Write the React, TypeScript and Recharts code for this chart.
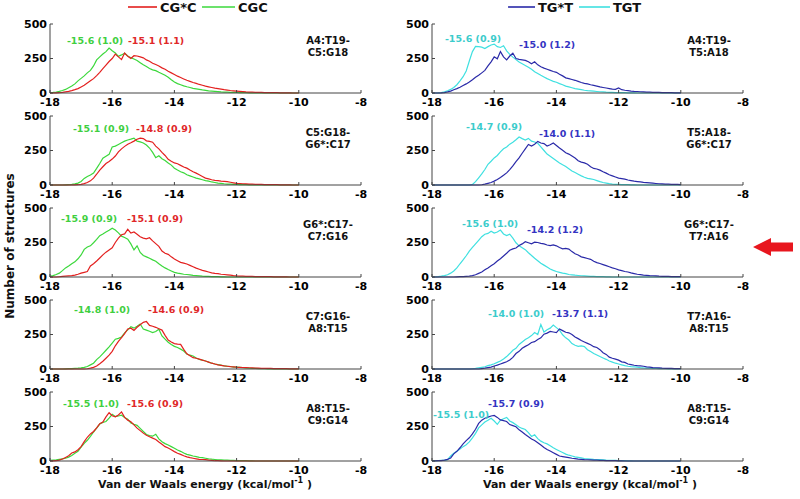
import { LineChart, Line, XAxis, YAxis } from "recharts";

// bin centres, kcal/mol
const energy = [
  -18, -17.9, -17.8, -17.7, -17.6, -17.5, -17.4, -17.3, -17.2, -17.1,
  -17, -16.9, -16.8, -16.7, -16.6, -16.5, -16.4, -16.3, -16.2, -16.1,
  -16, -15.9, -15.8, -15.7, -15.6, -15.5, -15.4, -15.3, -15.2, -15.1,
  -15, -14.9, -14.8, -14.7, -14.6, -14.5, -14.4, -14.3, -14.2, -14.1,
  -14, -13.9, -13.8, -13.7, -13.6, -13.5, -13.4, -13.3, -13.2, -13.1,
  -13, -12.9, -12.8, -12.7, -12.6, -12.5, -12.4, -12.3, -12.2, -12.1,
  -12, -11.9, -11.8, -11.7, -11.6, -11.5, -11.4, -11.3, -11.2, -11.1,
  -11, -10.9, -10.8, -10.7, -10.6, -10.5, -10.4, -10.3, -10.2, -10.1,
  -10,
];

const xTicks = [-18, -16, -14, -12, -10, -8];
const yTicks = [0, 250, 500];

// ---- left column: CG*C (red) and CGC (green) ----
const cgsc1 = [
  0, 0, 1, 2, 4, 8, 12, 17, 24, 32,
  44, 56, 72, 88, 104, 126, 150, 176, 202, 228,
  250, 282, 262, 242, 290, 266, 250, 270, 268, 262,
  255, 240, 230, 216, 206, 196, 182, 172, 158, 146,
  134, 122, 112, 102, 92, 84, 76, 70, 62, 56,
  50, 45, 40, 35, 32, 28, 24, 21, 18, 16,
  14, 12, 10, 8, 7, 6, 5, 4, 4, 3,
  3, 2, 2, 2, 1, 1, 1, 1, 0, 0,
  0,
];
const cgc1 = [
  2, 4, 7, 12, 18, 26, 38, 50, 66, 88,
  106, 124, 146, 164, 196, 240, 262, 282, 300, 326,
  306, 290, 266, 276, 288, 268, 256, 246, 236, 220,
  204, 192, 178, 168, 162, 150, 140, 128, 114, 96,
  80, 68, 60, 52, 45, 40, 34, 30, 26, 22,
  19, 16, 14, 12, 10, 8, 7, 6, 5, 4,
  4, 3, 2, 2, 1, 1, 0, 0, 0, 0,
  0, 0, 0, 0, 0, 0, 0, 0, 0, 0,
  0,
];
const cgsc2 = [
  0, 0, 0, 0, 0, 0, 0, 0, 1, 2,
  4, 10, 18, 30, 50, 78, 108, 132, 156, 170,
  188, 210, 240, 262, 280, 296, 306, 318, 332, 340,
  336, 320, 316, 310, 282, 262, 236, 214, 186, 172,
  160, 154, 142, 130, 122, 108, 96, 86, 74, 62,
  50, 44, 38, 34, 32, 28, 26, 24, 20, 16,
  12, 11, 9, 8, 7, 6, 5, 4, 4, 3,
  3, 2, 2, 2, 1, 1, 1, 1, 0, 0,
  0,
];
const cgc2 = [
  0, 0, 0, 0, 0, 1, 2, 4, 8, 14,
  26, 48, 62, 72, 86, 120, 156, 194, 208, 222,
  276, 282, 294, 306, 318, 326, 332, 340, 318, 312,
  304, 290, 268, 236, 198, 212, 190, 178, 160, 144,
  122, 108, 96, 88, 74, 66, 58, 50, 44, 38,
  32, 28, 22, 18, 14, 12, 9, 7, 6, 5,
  4, 3, 2, 2, 1, 1, 0, 0, 0, 0,
  0, 0, 0, 0, 0, 0, 0, 0, 0, 0,
  0,
];
const cgsc3 = [
  0, 0, 0, 2, 4, 6, 8, 10, 14, 20,
  28, 34, 40, 80, 96, 116, 138, 160, 180, 196,
  212, 250, 282, 306, 312, 346, 318, 326, 310, 292,
  282, 276, 284, 262, 242, 222, 188, 172, 164, 146,
  130, 118, 106, 100, 94, 84, 74, 64, 56, 48,
  42, 36, 30, 26, 24, 20, 18, 16, 13, 10,
  8, 7, 6, 5, 4, 4, 3, 3, 3, 2,
  2, 2, 1, 1, 1, 1, 1, 0, 0, 0,
  0,
];
const cgc3 = [
  4, 10, 18, 28, 46, 66, 80, 96, 110, 132,
  160, 200, 218, 226, 248, 272, 300, 312, 326, 338,
  354, 340, 320, 296, 286, 274, 240, 196, 226, 178,
  156, 146, 136, 124, 114, 96, 80, 66, 54, 44,
  34, 28, 24, 20, 18, 15, 12, 10, 8, 6,
  5, 4, 3, 2, 2, 1, 1, 0, 0, 0,
  0, 0, 0, 0, 0, 0, 0, 0, 0, 0,
  0, 0, 0, 0, 0, 0, 0, 0, 0, 0,
  0,
];
const cgsc4 = [
  0, 0, 0, 0, 0, 0, 0, 0, 0, 0,
  0, 0, 2, 6, 12, 22, 38, 56, 78, 100,
  128, 168, 200, 228, 256, 290, 296, 280, 302, 320,
  338, 344, 316, 310, 302, 292, 282, 244, 210, 196,
  184, 180, 178, 142, 110, 96, 82, 78, 72, 64,
  58, 50, 42, 36, 30, 26, 22, 20, 17, 15,
  13, 12, 11, 10, 9, 8, 7, 6, 5, 5,
  4, 4, 3, 3, 2, 2, 2, 1, 1, 1,
  1,
];
const cgc4 = [
  0, 0, 0, 0, 0, 1, 2, 3, 5, 6,
  8, 12, 18, 30, 42, 68, 88, 112, 136, 160,
  188, 216, 222, 232, 262, 284, 306, 296, 310, 326,
  290, 282, 274, 264, 272, 288, 240, 216, 194, 178,
  164, 156, 144, 130, 108, 100, 94, 80, 70, 64,
  58, 50, 42, 36, 32, 28, 22, 20, 18, 14,
  13, 12, 10, 8, 6, 5, 4, 3, 2, 2,
  1, 1, 0, 0, 0, 0, 0, 0, 0, 0,
  0,
];
const cgsc5 = [
  0, 1, 2, 6, 14, 26, 38, 58, 66, 82,
  104, 140, 172, 196, 214, 240, 270, 282, 320, 350,
  328, 320, 334, 356, 316, 296, 284, 262, 238, 220,
  202, 186, 176, 166, 156, 138, 122, 104, 94, 82,
  68, 56, 48, 38, 30, 24, 20, 16, 12, 11,
  10, 6, 4, 2, 2, 1, 0, 0, 0, 0,
  0, 0, 0, 0, 0, 0, 0, 0, 0, 0,
  0, 0, 0, 0, 0, 0, 0, 0, 0, 0,
  0,
];
const cgc5 = [
  4, 6, 8, 12, 16, 20, 28, 40, 56, 70,
  100, 128, 150, 178, 210, 238, 268, 280, 286, 310,
  338, 322, 326, 332, 316, 302, 276, 266, 258, 236,
  214, 192, 184, 180, 194, 160, 140, 126, 116, 104,
  92, 80, 70, 58, 48, 42, 36, 32, 26, 24,
  20, 16, 13, 11, 9, 8, 7, 6, 5, 4,
  3, 3, 2, 2, 1, 1, 0, 0, 0, 0,
  0, 0, 0, 0, 0, 0, 0, 0, 0, 0,
  0,
];

// ---- right column: TG*T (dark blue) and TGT (cyan) ----
const tgst1 = [
  0, 0, 0, 1, 3, 8, 14, 24, 32, 42,
  54, 66, 80, 96, 114, 128, 146, 164, 196, 226,
  262, 248, 300, 262, 240, 268, 288, 250, 244, 240,
  236, 226, 212, 226, 204, 190, 180, 172, 164, 156,
  150, 136, 124, 110, 104, 98, 92, 84, 76, 70,
  66, 60, 55, 50, 44, 40, 36, 32, 28, 26,
  36, 24, 20, 17, 14, 12, 11, 9, 8, 7,
  6, 5, 4, 4, 3, 3, 2, 2, 1, 1,
  1,
];
const tgt1 = [
  0, 0, 1, 3, 8, 16, 26, 40, 60, 88,
  118, 160, 232, 300, 338, 336, 332, 322, 336, 348,
  354, 336, 330, 342, 306, 280, 260, 242, 224, 212,
  200, 186, 172, 154, 142, 128, 116, 104, 94, 84,
  78, 68, 60, 50, 44, 38, 32, 28, 24, 20,
  17, 15, 13, 11, 9, 8, 6, 5, 4, 3,
  3, 2, 2, 1, 1, 1, 0, 0, 0, 0,
  0, 0, 0, 0, 0, 0, 0, 0, 0, 0,
  0,
];
const tgst2 = [
  0, 0, 0, 0, 0, 0, 0, 0, 0, 0,
  0, 0, 0, 0, 0, 0, 2, 6, 12, 18,
  28, 40, 54, 70, 88, 112, 138, 170, 196, 230,
  262, 294, 282, 296, 316, 304, 300, 282, 292, 304,
  286, 268, 252, 234, 224, 210, 196, 176, 166, 160,
  150, 132, 120, 116, 108, 96, 86, 74, 66, 58,
  50, 46, 42, 36, 32, 28, 25, 22, 19, 17,
  15, 13, 11, 9, 8, 7, 6, 5, 4, 4,
  3,
];
const tgt2 = [
  0, 0, 0, 0, 0, 0, 0, 0, 0, 0,
  0, 0, 0, 4, 24, 52, 80, 112, 150, 172,
  196, 214, 240, 262, 276, 296, 310, 328, 348, 336,
  326, 338, 318, 312, 302, 276, 250, 224, 208, 192,
  176, 160, 146, 134, 118, 102, 90, 78, 66, 56,
  48, 44, 40, 32, 24, 18, 14, 10, 7, 5,
  4, 3, 2, 2, 1, 1, 0, 0, 0, 0,
  0, 0, 0, 0, 0, 0, 0, 0, 0, 0,
  0,
];
const tgst3 = [
  0, 0, 0, 0, 0, 0, 0, 0, 1, 2,
  3, 5, 7, 10, 16, 26, 36, 52, 66, 82,
  96, 116, 132, 152, 172, 194, 204, 210, 228, 240,
  256, 248, 240, 252, 250, 244, 240, 232, 228, 232,
  226, 214, 204, 208, 202, 184, 168, 160, 146, 140,
  134, 128, 114, 104, 98, 90, 82, 74, 66, 60,
  52, 46, 40, 36, 30, 25, 20, 17, 14, 12,
  10, 9, 8, 6, 5, 5, 4, 3, 3, 2,
  2,
];
const tgt3 = [
  0, 1, 3, 6, 10, 16, 28, 44, 66, 96,
  124, 154, 188, 214, 240, 266, 292, 310, 316, 332,
  318, 326, 340, 312, 300, 310, 282, 248, 226, 212,
  198, 176, 156, 136, 118, 100, 86, 72, 58, 48,
  40, 34, 28, 24, 18, 16, 13, 11, 9, 8,
  7, 5, 4, 3, 2, 2, 1, 1, 0, 0,
  0, 0, 0, 0, 0, 0, 0, 0, 0, 0,
  0, 0, 0, 0, 0, 0, 0, 0, 0, 0,
  0,
];
const tgst4 = [
  0, 0, 0, 0, 0, 0, 0, 0, 0, 0,
  0, 0, 0, 0, 0, 0, 3, 6, 10, 14,
  22, 28, 36, 44, 52, 66, 84, 112, 128, 150,
  164, 176, 192, 198, 214, 226, 252, 260, 272, 268,
  264, 290, 278, 266, 262, 250, 232, 220, 206, 196,
  186, 176, 162, 156, 140, 118, 106, 86, 78, 72,
  64, 52, 48, 36, 32, 27, 24, 22, 20, 16,
  13, 10, 9, 8, 6, 5, 4, 4, 3, 2,
  2,
];
const tgt4 = [
  0, 0, 0, 0, 0, 0, 0, 0, 0, 0,
  0, 0, 0, 2, 4, 8, 12, 16, 24, 30,
  38, 48, 58, 72, 90, 112, 136, 150, 178, 196,
  214, 226, 242, 264, 250, 322, 268, 284, 296, 318,
  300, 282, 248, 226, 210, 184, 172, 164, 168, 162,
  140, 126, 112, 102, 90, 80, 70, 58, 50, 42,
  36, 30, 24, 20, 17, 15, 13, 10, 8, 7,
  6, 5, 4, 3, 2, 2, 1, 1, 0, 0,
  0,
];
const tgst5 = [
  0, 1, 2, 3, 6, 12, 22, 52, 70, 96,
  124, 148, 168, 196, 230, 272, 296, 310, 318, 326,
  330, 316, 298, 292, 286, 264, 256, 248, 226, 210,
  192, 176, 160, 148, 132, 116, 98, 84, 72, 60,
  48, 36, 32, 28, 24, 20, 17, 14, 12, 10,
  9, 8, 7, 6, 5, 4, 3, 3, 2, 2,
  1, 1, 0, 0, 0, 0, 0, 0, 0, 0,
  0, 0, 0, 0, 0, 0, 0, 0, 0, 0,
  0,
];
const tgt5 = [
  2, 2, 3, 4, 5, 10, 36, 56, 70, 86,
  104, 118, 138, 168, 200, 240, 262, 282, 296, 310,
  290, 266, 296, 306, 316, 290, 278, 262, 246, 236,
  228, 206, 178, 190, 162, 144, 132, 124, 110, 96,
  84, 72, 62, 50, 42, 36, 30, 26, 22, 18,
  16, 14, 12, 11, 10, 8, 6, 5, 5, 4,
  3, 2, 2, 1, 1, 0, 0, 0, 0, 0,
  0, 0, 0, 0, 0, 0, 0, 0, 0, 0,
  0,
];

const FONT = '"DejaVu Sans", Verdana, sans-serif';
const FRAME = "#444";

const LINE = { cgsc: "#e3201f", cgc: "#3bd83b", tgst: "#2a2aa8", tgt: "#3fe0e0" };
const TEXT = { cgsc: "#e02828", cgc: "#3fcf3f", tgst: "#3434c2", tgt: "#3ccccc" };

// geometry (page pixels)
const PLOT_W = 311;
const PLOT_H = 69;
const AXIS_W = 50;
const TOP_M = 6;
const BOTTOM_H = 22;
const RIGHT_M = 6;
const colLeft = [0, 382];
const rowTop = [24, 116, 208, 300, 392];

const panels = [
  { col: 0, row: 0, star: cgsc1, plain: cgc1, starLabel: "-15.1 (1.1)", plainLabel: "-15.6 (1.0)", starAt: [156, 20], plainAt: [95, 20], site: ["A4:T19-", "C5:G18"] },
  { col: 0, row: 1, star: cgsc2, plain: cgc2, starLabel: "-14.8 (0.9)", plainLabel: "-15.1 (0.9)", starAt: [164, 16], plainAt: [101, 16], site: ["C5:G18-", "G6*:C17"] },
  { col: 0, row: 2, star: cgsc3, plain: cgc3, starLabel: "-15.1 (0.9)", plainLabel: "-15.9 (0.9)", starAt: [155, 14], plainAt: [89, 14], site: ["G6*:C17-", "C7:G16"] },
  { col: 0, row: 3, star: cgsc4, plain: cgc4, starLabel: "-14.6 (0.9)", plainLabel: "-14.8 (1.0)", starAt: [176, 13], plainAt: [102, 13], site: ["C7:G16-", "A8:T15"] },
  { col: 0, row: 4, star: cgsc5, plain: cgc5, starLabel: "-15.6 (0.9)", plainLabel: "-15.5 (1.0)", starAt: [155, 15], plainAt: [91, 15], site: ["A8:T15-", "C9:G14"] },
  { col: 1, row: 0, star: tgst1, plain: tgt1, starLabel: "-15.0 (1.2)", plainLabel: "-15.6 (0.9)", starAt: [547, 24], plainAt: [473, 18], site: ["A4:T19-", "T5:A18"] },
  { col: 1, row: 1, star: tgst2, plain: tgt2, starLabel: "-14.0 (1.1)", plainLabel: "-14.7 (0.9)", starAt: [567, 21], plainAt: [494, 14], site: ["T5:A18-", "G6*:C17"] },
  { col: 1, row: 2, star: tgst3, plain: tgt3, starLabel: "-14.2 (1.2)", plainLabel: "-15.6 (1.0)", starAt: [555, 25], plainAt: [490, 19], site: ["G6*:C17-", "T7:A16"] },
  { col: 1, row: 3, star: tgst4, plain: tgt4, starLabel: "-13.7 (1.1)", plainLabel: "-14.0 (1.0)", starAt: [580, 17], plainAt: [516, 17], site: ["T7:A16-", "A8:T15"] },
  { col: 1, row: 4, star: tgst5, plain: tgt5, starLabel: "-15.7 (0.9)", plainLabel: "-15.5 (1.0)", starAt: [516, 15], plainAt: [461, 26], site: ["A8:T15-", "C9:G14"] },
];

const tickText = { fontFamily: FONT, fontWeight: 700, fontSize: 11, fill: "#000" };

const BottomTick = ({ x, y, payload }: any) => (
  <g>
    <line x1={x} y1={y} x2={x} y2={y - 3} stroke={FRAME} />
    <text x={x} y={y + 13} textAnchor="middle" style={tickText}>{payload.value}</text>
  </g>
);
const TopTick = ({ x, y }: any) => <line x1={x} y1={y} x2={x} y2={y + 3} stroke={FRAME} />;
const LeftTick = ({ x, y, payload }: any) => (
  <g>
    <line x1={x} y1={y} x2={x + 3} y2={y} stroke={FRAME} />
    <text x={x - 3} y={y + 3.5} textAnchor="end" style={tickText}>{payload.value}</text>
  </g>
);
const RightTick = ({ x, y }: any) => <line x1={x} y1={y} x2={x - 3} y2={y} stroke={FRAME} />;

function Panel({ p }: { p: (typeof panels)[number] }) {
  const rows = energy.map((e, i) => ({ e, star: p.star[i], plain: p.plain[i] }));
  const left = p.col === 0;
  return (
    <div style={{ position: "absolute", left: colLeft[p.col], top: rowTop[p.row] - TOP_M }}>
      <LineChart
        width={AXIS_W + PLOT_W + RIGHT_M}
        height={TOP_M + PLOT_H + BOTTOM_H}
        data={rows}
        margin={{ top: TOP_M, right: RIGHT_M, bottom: 0, left: 0 }}
      >
        <XAxis xAxisId="b" dataKey="e" type="number" domain={[-18, -8]} ticks={xTicks} interval={0}
          height={BOTTOM_H} tickSize={0} tickMargin={0} tickLine={false} axisLine={{ stroke: FRAME }} tick={BottomTick} />
        <XAxis xAxisId="t" orientation="top" dataKey="e" type="number" domain={[-18, -8]} ticks={xTicks} interval={0}
          height={0} tickSize={0} tickMargin={0} tickLine={false} axisLine={{ stroke: FRAME }} tick={TopTick} />
        <YAxis yAxisId="l" type="number" domain={[0, 500]} ticks={yTicks} interval={0}
          width={AXIS_W} tickSize={0} tickMargin={0} tickLine={false} axisLine={{ stroke: FRAME }} tick={LeftTick} />
        <YAxis yAxisId="r" orientation="right" type="number" domain={[0, 500]} ticks={yTicks} interval={0}
          width={0} tickSize={0} tickMargin={0} tickLine={false} axisLine={{ stroke: FRAME }} tick={RightTick} />
        <Line xAxisId="b" yAxisId="l" type="linear" dataKey="plain" stroke={left ? LINE.cgc : LINE.tgt}
          strokeWidth={1.2} dot={false} isAnimationActive={false} />
        <Line xAxisId="b" yAxisId="l" type="linear" dataKey="star" stroke={left ? LINE.cgsc : LINE.tgst}
          strokeWidth={1.2} dot={false} isAnimationActive={false} />
      </LineChart>
    </div>
  );
}

const labelStyle = { fontFamily: FONT, fontWeight: 700, fontSize: 9.5 };
const siteStyle = { fontFamily: FONT, fontWeight: 700, fontSize: 10, fill: "#111" };
const legendStyle = { fontFamily: FONT, fontWeight: 700, fontSize: 13, fill: "#111" };
const titleStyle = { fontFamily: FONT, fontWeight: 700, fontSize: 11, fill: "#111" };

export default function App() {
  return (
    <div style={{ position: "absolute", left: 0, top: 0, width: 800, height: 499, background: "#fff" }}>
      {panels.map((p, i) => (
        <Panel key={i} p={p} />
      ))}
      <svg width={800} height={499} style={{ position: "absolute", left: 0, top: 0, pointerEvents: "none" }}>
        {/* legends */}
        <line x1={128} x2={157} y1={7} y2={7} stroke={LINE.cgsc} strokeWidth={1.6} />
        <text x={160} y={12} style={legendStyle}>CG*C</text>
        <line x1={202} x2={235} y1={7} y2={7} stroke={LINE.cgc} strokeWidth={1.6} />
        <text x={238} y={12} style={legendStyle}>CGC</text>
        <line x1={508} x2={535} y1={7} y2={7} stroke={LINE.tgst} strokeWidth={1.6} />
        <text x={538} y={12} style={legendStyle}>TG*T</text>
        <line x1={579} x2={610} y1={7} y2={7} stroke={LINE.tgt} strokeWidth={1.6} />
        <text x={613} y={12} style={legendStyle}>TGT</text>

        {/* per-panel annotations */}
        {panels.map((p, i) => {
          const top = rowTop[p.row];
          const left = p.col === 0;
          const siteX = left ? 328 : 709;
          return (
            <g key={i}>
              <text x={p.plainAt[0]} y={top + p.plainAt[1]} textAnchor="middle"
                style={{ ...labelStyle, fill: left ? TEXT.cgc : TEXT.tgt }}>{p.plainLabel}</text>
              <text x={p.starAt[0]} y={top + p.starAt[1]} textAnchor="middle"
                style={{ ...labelStyle, fill: left ? TEXT.cgsc : TEXT.tgst }}>{p.starLabel}</text>
              <text x={siteX} y={top + 20} textAnchor="middle" style={siteStyle}>{p.site[0]}</text>
              <text x={siteX} y={top + 32} textAnchor="middle" style={siteStyle}>{p.site[1]}</text>
            </g>
          );
        })}

        {/* axis titles */}
        <text x={205} y={488} textAnchor="middle" style={titleStyle}>
          Van der Waals energy (kcal/mol<tspan dy={-5} fontSize={8}>-1</tspan><tspan dy={5}> )</tspan>
        </text>
        <text x={590} y={488} textAnchor="middle" style={titleStyle}>
          Van der Waals energy (kcal/mol<tspan dy={-5} fontSize={8}>-1</tspan><tspan dy={5}> )</tspan>
        </text>
        <text x={14} y={246} textAnchor="middle" transform="rotate(-90 14 246)" style={{ ...titleStyle, fontSize: 12 }}>
          Number of structures
        </text>

        {/* arrow pointing at the G6*:C17-T7:A16 panel */}
        <polygon points="753,247 771,238 771,242.5 793,242.5 793,251.5 771,251.5 771,256" fill="#e8161e" />
      </svg>
    </div>
  );
}
